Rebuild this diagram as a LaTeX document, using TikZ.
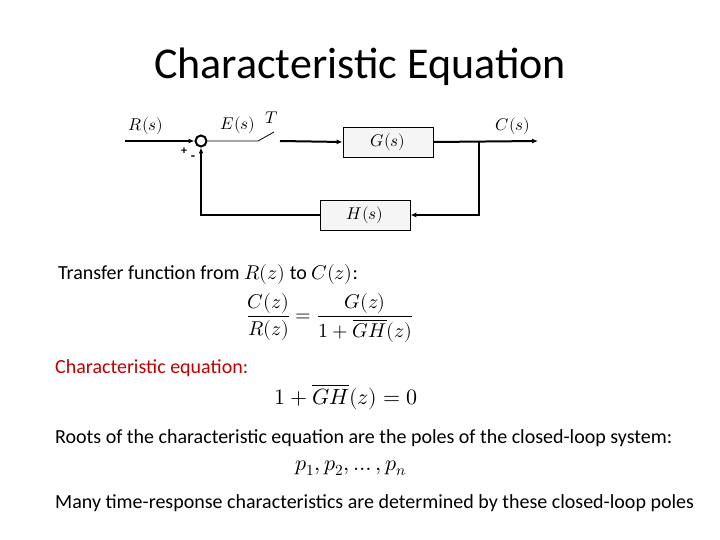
\documentclass[tikz,border=0pt]{standalone}
\usepackage{fontspec}
\usepackage{unicode-math}
\setmainfont{Carlito}
\setmathfont{Latin Modern Math}
\usetikzlibrary{arrows.meta}
\begin{document}
\begin{tikzpicture}[x=1pt,y=-1pt,
  blk/.style={draw,thick,fill=gray!8,minimum width=90pt,minimum height=30pt,inner sep=0pt,font=\fontsize{17}{20}\selectfont},
  ln/.style={line width=2pt},
  arr/.style={ln,-{Latex[length=6pt,width=5pt]}},
  body/.style={anchor=west,font=\fontsize{20}{24}\selectfont,inner sep=0pt},
  lab/.style={font=\fontsize{17}{20}\selectfont,inner sep=0pt}]
\useasboundingbox (0,0) rectangle (720,540);
\node[font=\fontsize{44}{50}\selectfont] (title) at (360,67) {Characteristic Equation};
% block diagram
\coordinate (in) at (125,141);
\node[circle,draw,line width=2pt,minimum size=11pt,inner sep=0pt] (sum) at (201,141) {};
\coordinate (sw1) at (258,141);
\coordinate (sw2) at (274,132);
\coordinate (sw3) at (280,141);
\node[blk] (G) at (388,142) {$G(s)$};
\coordinate (out) at (538,141);
\coordinate (br) at (479,141);
\coordinate (brd) at (479,215);
\node[blk] (H) at (365,215) {$H(s)$};
\coordinate (fb) at (201,215);
\draw[arr] (in) -- (sum.west);
\draw[line width=0.8pt] (sum.east) -- (sw1) -- (sw2);
\draw[arr] (sw3) -- (G.west);
\draw[arr] (G.east) -- (out);
\draw[arr] (br) -- (brd) -- (H.east);
\draw[arr] (H.west) -- (fb) -- (sum.south);
\node[lab] (Rs) at (146,126) {$R(s)$};
\node[lab] (Es) at (238,125) {$E(s)$};
\node[lab] (T) at (272,118) {$T$};
\node[lab] (Cs) at (513,126) {$C(s)$};
\node[font=\bfseries\fontsize{12}{14}\selectfont] (plus) at (184,151) {+};
\node[font=\bfseries\fontsize{14}{14}\selectfont] (minus) at (193,158) {-};
% text
\node[body] (t1) at (58,274) {Transfer function from $R(z)$ to $C(z)$:};
\node[font=\fontsize{20}{24}\selectfont] (f1) at (330,318) {$\displaystyle\frac{C(z)}{R(z)}=\frac{G(z)}{1+\overline{GH}(z)}$};
\node[body,text={rgb,255:red,192;green,0;blue,0}] (t2) at (55,368) {Characteristic equation:};
\node[font=\fontsize{22}{26}\selectfont] (f2) at (346,397) {$1+\overline{GH}(z)=0$};
\node[body] (t3) at (55,438) {Roots of the characteristic equation are the poles of the closed-loop system:};
\node[font=\fontsize{22}{26}\selectfont] (f3) at (351,468) {$p_1,p_2,\dots,p_n$};
\node[body] (t4) at (55,503) {Many time-response characteristics are determined by these closed-loop poles};
\end{tikzpicture}
\end{document}
